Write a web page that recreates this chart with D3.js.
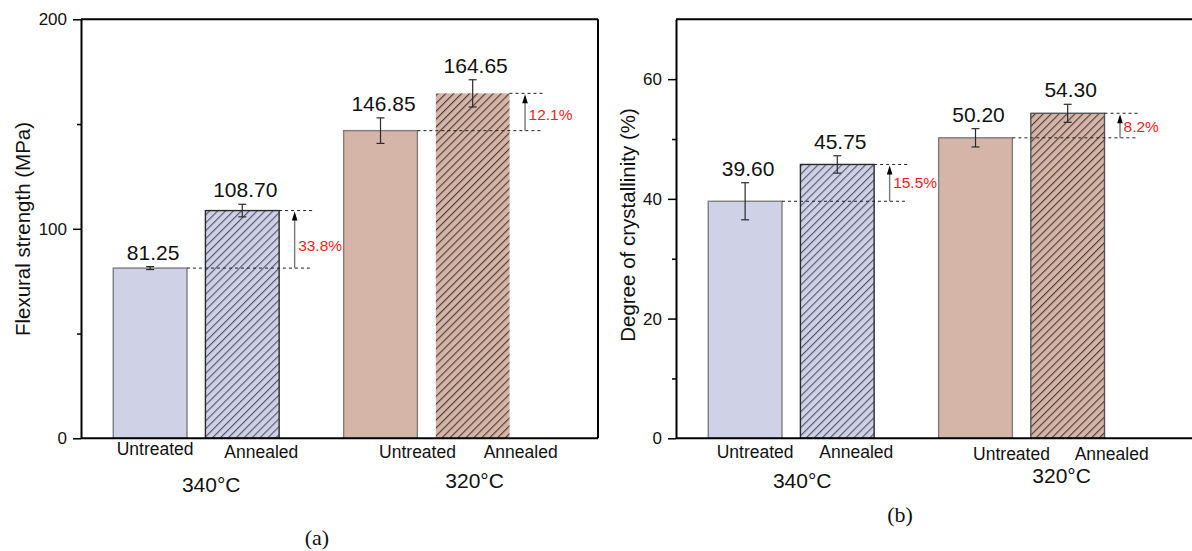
<!DOCTYPE html>
<html>
<head>
<meta charset="utf-8">
<script src="https://cdn.jsdelivr.net/npm/d3@7"></script>
<style>
  html, body { margin: 0; padding: 0; background: #fff; }
  svg { display: block; font-family: "Liberation Sans", Arial, sans-serif; }
</style>
</head>
<body>
<svg id="chart" width="1192" height="551"></svg>
<script>
// ---- data ----
const categories = ["Untreated", "Annealed", "Untreated", "Annealed"];
const groups = ["340°C", "320°C"];
const xPositions = [1, 2, 3.5, 4.5];

const flexural = [81.25, 108.70, 146.85, 164.65];
const flexuralErr = [0.7, 3.0, 6.1, 6.5];
const flexuralGain = ["33.8%", "12.1%"];
const flexuralTicks = [0, 100, 200];
const flexuralMinor = [50, 150];

const crystallinity = [39.60, 45.75, 50.20, 54.30];
const crystallinityErr = [3.1, 1.45, 1.53, 1.5];
const crystallinityGain = ["15.5%", "8.2%"];
const crystallinityTicks = [0, 20, 40, 60];
const crystallinityMinor = [10, 30, 50];

// ---- styles ----
const fillLavender = "#cfd1e6";
const fillTan = "#d4b5a7";
const hatchLavender = "#4f5166";
const hatchTan = "#4a3832";

const svg = d3.select("#chart");
const defs = svg.append("defs");

function hatch(id, bg, line) {
  const p = defs.append("pattern")
    .attr("id", id)
    .attr("patternUnits", "userSpaceOnUse")
    .attr("width", 5.6).attr("height", 5.6)
    .attr("patternTransform", "rotate(45)");
  p.append("rect").attr("width", 5.6).attr("height", 5.6).attr("fill", bg);
  p.append("line").attr("x1", 0.6).attr("y1", 0).attr("x2", 0.6).attr("y2", 5.6)
    .attr("stroke", line).attr("stroke-width", 1.1);
}
hatch("hatchLav", fillLavender, hatchLavender);
hatch("hatchTan", fillTan, hatchTan);

const barFills = [fillLavender, "url(#hatchLav)", fillTan, "url(#hatchTan)"];

function drawPanel(cfg) {
  const g = svg.append("g");
  const x = d3.scaleLinear().domain([0.25, 5.86]).range([cfg.left, cfg.left + 517]);
  const y = d3.scaleLinear().domain(cfg.yDomain).range([438.3, 19.3]);
  const unit = x(1) - x(0);
  const bw = unit * 0.8;

  // bars
  g.selectAll("rect.bar").data(cfg.values).join("rect")
    .attr("class", "bar")
    .attr("x", (d, i) => x(xPositions[i]) - bw / 2)
    .attr("y", d => y(d))
    .attr("width", bw)
    .attr("height", d => y(0) - y(d))
    .attr("fill", (d, i) => barFills[i])
    .attr("stroke", (d, i) => cfg.barStroke[i])
    .attr("stroke-width", (d, i) => cfg.barStroke[i] === "none" ? 0 : 1.4);

  // error bars
  const eb = g.selectAll("g.err").data(cfg.values).join("g").attr("class", "err")
    .attr("stroke", "#2b2b2b").attr("stroke-width", 1.2);
  eb.append("line")
    .attr("x1", (d, i) => x(xPositions[i])).attr("x2", (d, i) => x(xPositions[i]))
    .attr("y1", (d, i) => y(d - cfg.errors[i])).attr("y2", (d, i) => y(d + cfg.errors[i]));
  eb.append("line")
    .attr("x1", (d, i) => x(xPositions[i]) - 4).attr("x2", (d, i) => x(xPositions[i]) + 4)
    .attr("y1", (d, i) => y(d + cfg.errors[i])).attr("y2", (d, i) => y(d + cfg.errors[i]));
  eb.append("line")
    .attr("x1", (d, i) => x(xPositions[i]) - 4).attr("x2", (d, i) => x(xPositions[i]) + 4)
    .attr("y1", (d, i) => y(d - cfg.errors[i])).attr("y2", (d, i) => y(d - cfg.errors[i]));

  // value labels
  g.selectAll("text.val").data(cfg.values).join("text")
    .attr("class", "val")
    .attr("x", (d, i) => x(xPositions[i]) + 3)
    .attr("y", (d, i) => y(d + cfg.errors[i]) - 7)
    .attr("text-anchor", "middle")
    .attr("font-size", 21).attr("fill", "#111")
    .text(d => d.toFixed(2));

  // improvement annotations between each pair
  [0, 1].forEach(k => {
    const lo = cfg.values[2 * k], hi = cfg.values[2 * k + 1];
    const xLoEdge = x(xPositions[2 * k]) + bw / 2;
    const xHiEdge = x(xPositions[2 * k + 1]) + bw / 2;
    const xEnd = xHiEdge + 33;
    const xArrow = xHiEdge + 15.5;
    const dash = g.append("g").attr("stroke", "#222").attr("stroke-width", 1)
      .attr("stroke-dasharray", "3,3");
    dash.append("line").attr("x1", xLoEdge).attr("x2", xEnd).attr("y1", y(lo)).attr("y2", y(lo));
    dash.append("line").attr("x1", xHiEdge).attr("x2", xEnd).attr("y1", y(hi)).attr("y2", y(hi));
    g.append("line").attr("x1", xArrow).attr("x2", xArrow)
      .attr("y1", y(lo)).attr("y2", y(hi) + 6)
      .attr("stroke", "#777").attr("stroke-width", 1.4);
    g.append("path")
      .attr("d", `M${xArrow},${y(hi) + 1} L${xArrow - 2.8},${y(hi) + 10} L${xArrow + 2.8},${y(hi) + 10} Z`)
      .attr("fill", "#000");
    g.append("text")
      .attr("x", xArrow + 3.5)
      .attr("y", (y(lo) + y(hi)) / 2 + cfg.gainDy[k])
      .attr("dominant-baseline", "central")
      .attr("font-size", 15.5).attr("fill", "#ff1a1a")
      .text(cfg.gains[k]);
  });

  // frame
  const frame = g.append("g").attr("stroke", "#000").attr("stroke-width", 2).attr("fill", "none");
  frame.append("line").attr("x1", x.range()[0]).attr("x2", x.range()[1]).attr("y1", y.range()[1]).attr("y2", y.range()[1]);
  frame.append("line").attr("x1", x.range()[1]).attr("x2", x.range()[1]).attr("y1", y.range()[1]).attr("y2", y.range()[0]);
  frame.append("line").attr("x1", x.range()[0]).attr("x2", x.range()[1]).attr("y1", y.range()[0]).attr("y2", y.range()[0]);

  // y axis: major ticks with labels, minor ticks without
  const ax = g.append("g").attr("transform", `translate(${x.range()[0]},0)`)
    .call(d3.axisLeft(y).tickValues(cfg.ticks).tickSize(8).tickSizeOuter(0).tickPadding(6).tickFormat(d3.format("d")));
  ax.select(".domain").attr("stroke-width", 2);
  ax.selectAll(".tick line").attr("stroke-width", 1.5);
  ax.selectAll(".tick text").attr("font-size", 17).attr("fill", "#111")
    .attr("font-family", "'Liberation Sans', Arial, sans-serif");
  const mx = g.append("g").attr("transform", `translate(${x.range()[0]},0)`)
    .call(d3.axisLeft(y).tickValues(cfg.minor).tickSize(4).tickSizeOuter(0).tickFormat(""));
  mx.select(".domain").remove();
  mx.selectAll(".tick line").attr("stroke-width", 1.5);

  // y axis title
  g.append("text")
    .attr("transform", `translate(${cfg.titleX},${cfg.titleY}) rotate(-90)`)
    .attr("text-anchor", "middle").attr("dominant-baseline", "central")
    .attr("font-size", 20.5).attr("fill", "#111")
    .text(cfg.title);

  // category labels under each bar
  g.selectAll("text.cat").data(categories).join("text")
    .attr("class", "cat")
    .attr("x", (d, i) => x(xPositions[i]) + cfg.catDx[i])
    .attr("y", (d, i) => cfg.catY[i])
    .attr("text-anchor", "middle")
    .attr("font-size", 17.5).attr("fill", "#111")
    .text(d => d);

  // group labels
  g.selectAll("text.grp").data(groups).join("text")
    .attr("class", "grp")
    .attr("x", (d, i) => x((xPositions[2 * i] + xPositions[2 * i + 1]) / 2) + cfg.grpDx[i])
    .attr("y", (d, i) => cfg.grpY[i])
    .attr("text-anchor", "middle")
    .attr("font-size", 21).attr("fill", "#111")
    .text(d => d);

  // panel letter
  g.append("text")
    .attr("x", cfg.letterX).attr("y", cfg.letterY)
    .attr("text-anchor", "middle")
    .attr("font-family", "'Liberation Serif', 'Times New Roman', serif")
    .attr("font-size", 22).attr("fill", "#111")
    .text(cfg.letter);
}

drawPanel({
  left: 81,
  yDomain: [0, 200],
  values: flexural,
  errors: flexuralErr,
  gains: flexuralGain,
  gainDy: [6, 2],
  ticks: flexuralTicks,
  minor: flexuralMinor,
  barStroke: ["#7d7d7d", "#2a2a2a", "#7d7d7d", "none"],
  title: "Flexural strength (MPa)",
  titleX: 22, titleY: 229,
  catDx: [5, 19, 37, 48],
  catY: [455, 458, 458, 458],
  grpDx: [15, 48],
  grpY: [492, 488],
  letter: "(a)", letterX: 317, letterY: 545
});

drawPanel({
  left: 676,
  yDomain: [0, 70],
  values: crystallinity,
  errors: crystallinityErr,
  gains: crystallinityGain,
  gainDy: [0, 1],
  ticks: crystallinityTicks,
  minor: crystallinityMinor,
  barStroke: ["#7d7d7d", "#2a2a2a", "#7d7d7d", "#555"],
  title: "Degree of crystallinity (%)",
  titleX: 627, titleY: 225,
  catDx: [10, 19, 36, 44],
  catY: [458, 458, 460, 460],
  grpDx: [11, 40],
  grpY: [488, 483],
  letter: "(b)", letterX: 900, letterY: 522
});
</script>
</body>
</html>
